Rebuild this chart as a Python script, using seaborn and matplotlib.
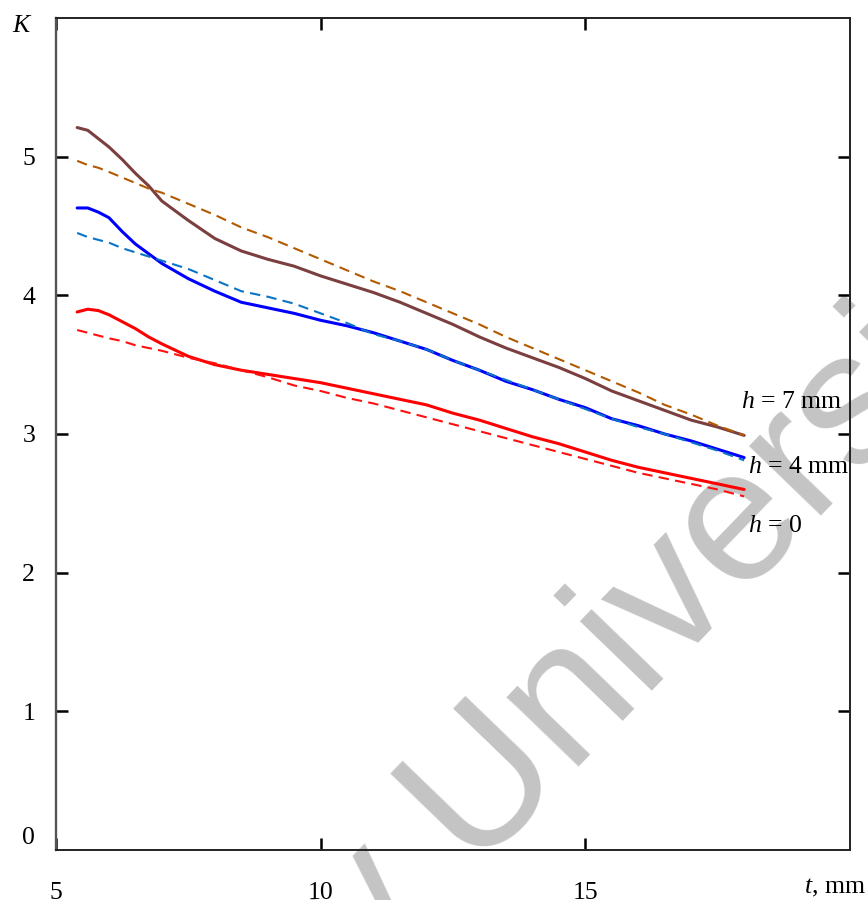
import numpy as np
import pandas as pd
import matplotlib
matplotlib.use("Agg")
import matplotlib.pyplot as plt
import seaborn as sns

# thickness t, mm
t = [5.4, 5.6, 5.8, 6.0, 6.25, 6.5, 6.75, 7.0, 7.5, 8.0, 8.5, 9.0, 9.5, 10.0, 10.5,
     11.0, 11.5, 12.0, 12.5, 13.0, 13.5, 14.0, 14.5, 15.0, 15.5, 16.0, 16.5, 17.0, 17.5, 18.0]

# h = 7 mm
k7_meas = [5.21, 5.19, 5.13, 5.07, 4.98, 4.88, 4.79, 4.68, 4.54, 4.41, 4.32, 4.26, 4.21, 4.14, 4.08,
           4.02, 3.95, 3.87, 3.79, 3.70, 3.62, 3.55, 3.48, 3.40, 3.31, 3.24, 3.17, 3.10, 3.05, 2.99]
k7_calc = [4.97, 4.94, 4.92, 4.89, 4.85, 4.81, 4.77, 4.74, 4.66, 4.58, 4.49, 4.42, 4.34, 4.26, 4.18,
           4.10, 4.03, 3.95, 3.87, 3.79, 3.70, 3.62, 3.54, 3.46, 3.38, 3.30, 3.21, 3.14, 3.06, 2.99]
# h = 4 mm
k4_meas = [4.63, 4.63, 4.60, 4.56, 4.46, 4.37, 4.30, 4.23, 4.12, 4.03, 3.95, 3.91, 3.87, 3.82, 3.78,
           3.73, 3.67, 3.61, 3.53, 3.46, 3.38, 3.32, 3.25, 3.19, 3.11, 3.06, 3.00, 2.95, 2.89, 2.83]
k4_calc = [4.45, 4.42, 4.40, 4.38, 4.34, 4.31, 4.28, 4.25, 4.19, 4.11, 4.03, 3.99, 3.94, 3.87, 3.80,
           3.72, 3.67, 3.61, 3.53, 3.46, 3.39, 3.32, 3.25, 3.18, 3.11, 3.05, 3.00, 2.94, 2.88, 2.81]
# h = 0
k0_meas = [3.88, 3.90, 3.89, 3.86, 3.81, 3.76, 3.70, 3.65, 3.56, 3.50, 3.46, 3.43, 3.40, 3.37, 3.33,
           3.29, 3.25, 3.21, 3.15, 3.10, 3.04, 2.98, 2.93, 2.87, 2.81, 2.76, 2.72, 2.68, 2.64, 2.60]
k0_calc = [3.75, 3.73, 3.71, 3.69, 3.67, 3.64, 3.62, 3.60, 3.55, 3.51, 3.46, 3.41, 3.35, 3.31, 3.26,
           3.22, 3.17, 3.12, 3.07, 3.02, 2.97, 2.92, 2.87, 2.82, 2.77, 2.72, 2.68, 2.64, 2.60, 2.55]

x_ticks = [5, 10, 15]
y_ticks = [1, 2, 3, 4, 5]
curve_labels = ["$h$ = 7 mm", "$h$ = 4 mm", "$h$ = 0"]

sns.set_style("white")
plt.rcParams["font.family"] = ["Liberation Serif", "DejaVu Serif"]
plt.rcParams["mathtext.fontset"] = "custom"
plt.rcParams["mathtext.rm"] = "Liberation Serif"
plt.rcParams["mathtext.it"] = "Liberation Serif:italic"
plt.rcParams["text.color"] = "black"
plt.rcParams["xtick.color"] = "black"
plt.rcParams["ytick.color"] = "black"

FS = 18.5
fig = plt.figure(figsize=(8.68, 9.0), dpi=100)
ax = fig.add_axes([56 / 868, 50 / 900, 794 / 868, 832 / 900])
ax.set_facecolor("none")

df = pd.DataFrame({"t": t})
series = [
    (k7_meas, "#7b3f3f", "-", 2.2),
    (k7_calc, "#b35a00", (0, (5, 3)), 1.5),
    (k4_meas, "#0000ff", "-", 2.2),
    (k4_calc, "#0a74c6", (0, (5, 3)), 1.5),
    (k0_meas, "#ff0000", "-", 2.2),
    (k0_calc, "#ff1010", (0, (5, 3)), 1.5),
]
for vals, col, ls, lw in series:
    sns.lineplot(x=df["t"], y=vals, color=col, linestyle=ls, linewidth=lw, ax=ax)

ax.set_xlim(5, 20)
ax.set_ylim(0, 6)
ax.set_xticks(x_ticks)
ax.set_xticklabels([str(v) for v in x_ticks])
ax.set_yticks(y_ticks)
ax.set_yticklabels([str(v) for v in y_ticks])
ax.set_xlabel("")
ax.set_ylabel("")
ax.tick_params(axis="both", direction="in", length=8.5, width=1.8, color="black",
               labelcolor="black", bottom=True, left=True, top=True, right=True,
               labelsize=FS)
ax.tick_params(axis="x", pad=23)
ax.tick_params(axis="y", pad=15)
ax.annotate("0", xy=(5, 0), xycoords="data", xytext=(-15, 9), textcoords="offset points",
            ha="right", va="center", fontsize=FS, color="black")

for side, sp in ax.spines.items():
    sp.set_color("#222222")
    sp.set_linewidth(1.4)
ax.spines["left"].set_color("#555555")
ax.spines["left"].set_linewidth(1.7)

ax.text(17.94, 3.19, curve_labels[0], fontsize=FS, ha="left", va="baseline")
ax.text(18.07, 2.72, curve_labels[1], fontsize=FS, ha="left", va="baseline")
ax.text(18.07, 2.29, curve_labels[2], fontsize=FS, ha="left", va="baseline")

fig.text(12 / 868, 1 - 32 / 900, "$K$", fontsize=FS, ha="left", va="baseline")
fig.text(866 / 868, 1 - 893 / 900, "$t$, mm", fontsize=FS, ha="right", va="baseline")

# watermark
fig.text(372 / 868, 1 - 981 / 900, "y University", fontsize=137, color="#c4c4c4",
         family="Liberation Sans", rotation=46, rotation_mode="anchor",
         ha="left", va="baseline", zorder=-1)

fig.savefig("out.png", dpi=100)
